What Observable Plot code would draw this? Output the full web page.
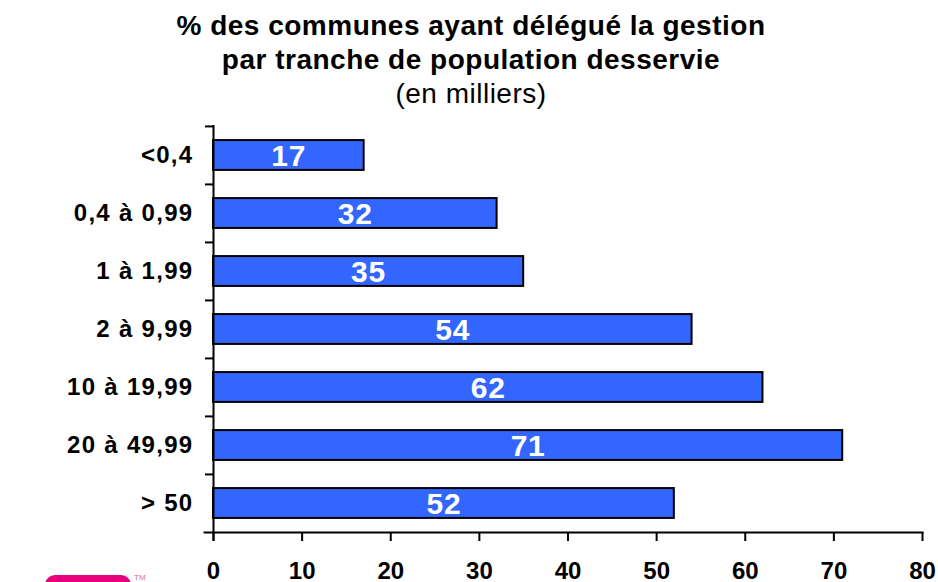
<!DOCTYPE html>
<html>
<head>
<meta charset="utf-8">
<script src="https://cdn.jsdelivr.net/npm/d3@7"></script>
<script src="https://cdn.jsdelivr.net/npm/@observablehq/plot@0.6"></script>
<style>
  html, body { margin: 0; padding: 0; background: #fff; }
  #page { position: relative; width: 938px; height: 582px; overflow: hidden; font-family: Arial, "Liberation Sans", sans-serif; color: #000; }
  #title { position: absolute; left: 2px; top: 9px; width: 938px; text-align: center; }
  .t1 { font-size: 28px; font-weight: bold; line-height: 34px; letter-spacing: 0.5px; }
  .t2 { font-size: 28px; font-weight: normal; line-height: 34px; letter-spacing: 0.5px; margin-top: 0px; }
  #chart { position: absolute; left: 0; top: 110px; }
  #logo { position: absolute; left: 45px; top: 575px; width: 86px; height: 24px; background: #e6007e; border-radius: 10px; }
  #tm { position: absolute; left: 134px; top: 573px; font-size: 8px; color: #e06aa0; }
  .bars-chart g[aria-label="y-axis tick label"] text { letter-spacing: 1.3px; }
  .bars-chart g[aria-label="text"] text { letter-spacing: 0.8px; }
</style>
</head>
<body>
<div id="page">
  <div id="title">
    <div class="t1">% des communes ayant délégué la gestion</div>
    <div class="t1">par tranche de population desservie</div>
    <div class="t2">(en milliers)</div>
  </div>
  <div id="chart"></div>
  <div id="logo"></div>
  <div id="tm">TM</div>
</div>
<script>
const categories = ["<0,4", "0,4 à 0,99", "1 à 1,99", "2 à 9,99", "10 à 19,99", "20 à 49,99", "> 50"];
const values = [17, 32, 35, 54, 62, 71, 52];
const xTicks = [0, 10, 20, 30, 40, 50, 60, 70, 80];

const data = categories.map((c, i) => ({cat: c, value: values[i]}));

const W = 938, H = 472, mT = 15, mB = 50, mL = 213, mR = 16;
const step = (H - mT - mB) / categories.length;
const barH = 30;
const inset = (step - barH) / 2;

const chart = Plot.plot({
  width: W,
  height: H,
  marginTop: mT,
  marginBottom: mB,
  marginLeft: mL,
  marginRight: mR,
  className: "bars-chart",
  style: {fontFamily: "Arial, 'Liberation Sans', sans-serif", color: "#000", background: "transparent"},
  x: {domain: [0, 80], axis: null, label: null},
  y: {domain: categories, padding: 0, axis: null, label: null},
  marks: [
    Plot.barX(data, {x: "value", y: "cat", fill: "#3366ff", stroke: "#000", strokeWidth: 2, insetTop: inset, insetBottom: inset}),
    Plot.text(data, {x: d => d.value / 2, y: "cat", text: d => String(d.value), fill: "#fff", fontSize: 30, fontWeight: "bold", dy: 1}),
    Plot.axisX({ticks: xTicks, tickSize: 9, tickPadding: 20, fontSize: 24, fontWeight: "bold", strokeWidth: 2, label: null}),
    Plot.axisY({tickSize: 8, tickFormat: () => "", dy: -step / 2, strokeWidth: 2, label: null}),
    Plot.axisY({tickSize: 0, tickPadding: 20, fontSize: 24, fontWeight: "bold", label: null}),
    Plot.ruleX([0], {strokeWidth: 2, insetBottom: -9}),
    Plot.frame({anchor: "bottom", strokeWidth: 2, insetLeft: -9})
  ]
});
document.getElementById("chart").appendChild(chart);
</script>
</body>
</html>
